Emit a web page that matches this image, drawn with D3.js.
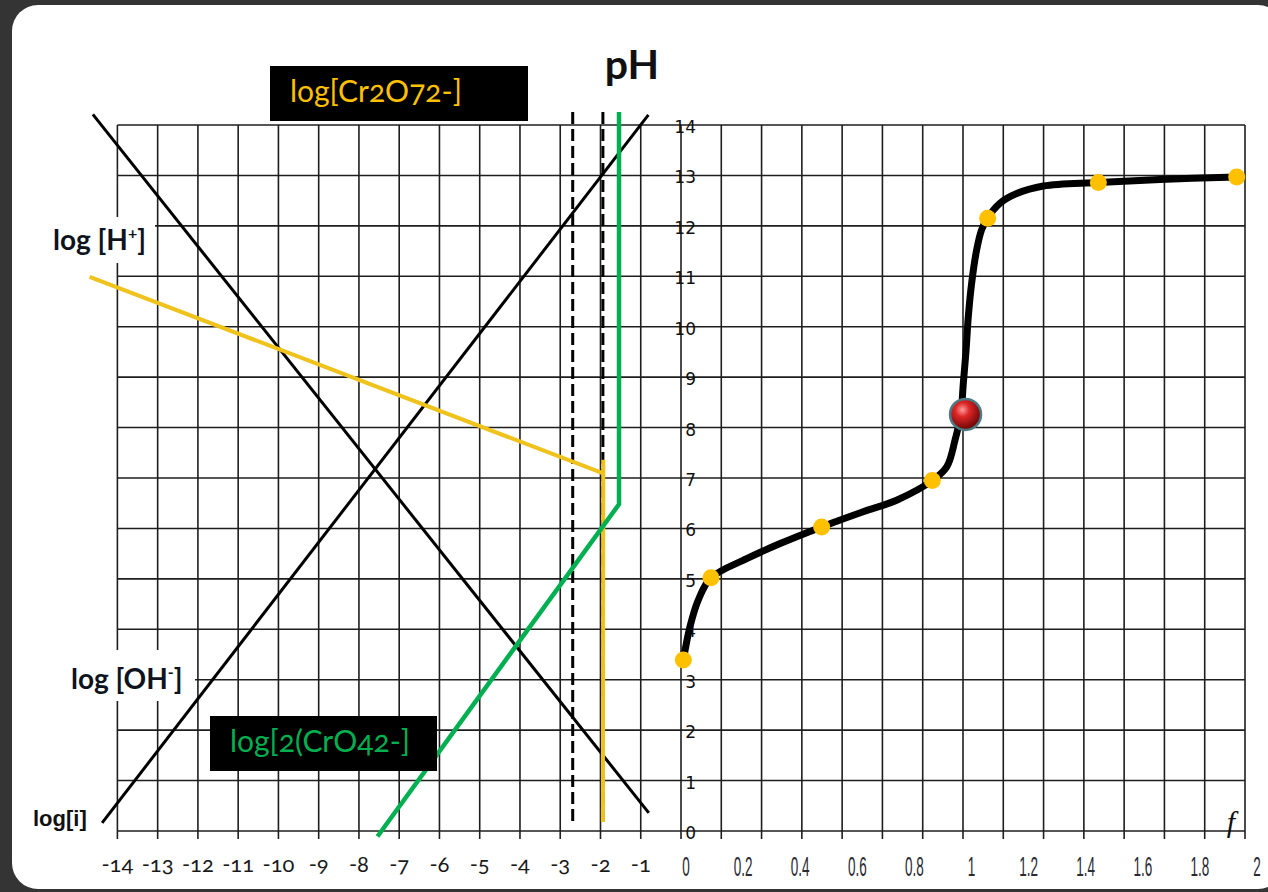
<!DOCTYPE html>
<html>
<head>
<meta charset="utf-8">
<script src="https://cdn.jsdelivr.net/npm/d3@7"></script>
<style>
  body { margin: 0; background: #343434; }
  svg { display: block; }
  .onum { font-family: Lato, "Noto Sans", sans-serif; font-variant-numeric: oldstyle-nums; font-feature-settings: "onum" 1; }
</style>
</head>
<body>
<svg id="chart" width="1268" height="892"></svg>
<script>
// ---- data ----
var logTicks = d3.range(-14, 0);            // -14 .. -1
var pHTicks = d3.range(0, 15);              // 0 .. 14
var fTicks = [0, 0.2, 0.4, 0.6, 0.8, 1, 1.2, 1.4, 1.6, 1.8, 2];
var fLabels = ["0", "0.2", "0.4", "0.6", "0.8", "1", "1.2", "1.4", "1.6", "1.8", "2"];

// left diagram: [log c, pH]
var hLine = [[-14.61, 14.21], [-0.80, 0.36]];
var ohLine = [[-14.38, 0.16], [-0.81, 14.20]];
var cr2o7Slope = [[-14.69, 10.99], [-1.93, 7.09]];
var cr2o7Vert = [[-1.93, 7.36], [-1.94, 0.18]];
var cro4Line = [[-7.54, -0.11], [-1.54, 6.48], [-1.54, 14.26]];
var dashedLog = [-2.69, -1.94];
var dashedPH = [14.26, 0.18];

// titration curve: f, pH
var curveF =  [0, 0.024, 0.054, 0.1, 0.229, 0.35, 0.5, 0.65, 0.771, 0.9, 0.952, 0.982, 1.003, 1.012, 1.022, 1.03, 1.042, 1.06, 1.078, 1.099, 1.145, 1.205, 1.301, 1.5, 1.723, 2];
var curvePH = [3.39, 4.05, 4.58, 5.02, 5.40, 5.70, 6.03, 6.33, 6.56, 6.95, 7.22, 7.75, 8.27, 8.88, 9.54, 10.2, 10.86, 11.52, 11.92, 12.15, 12.45, 12.64, 12.79, 12.86, 12.92, 12.97];
var pointF =  [0, 0.1, 0.5, 0.9, 1.1, 1.5, 2];
var pointPH = [3.39, 5.02, 6.03, 6.95, 12.15, 12.86, 12.97];
var equivF = [1.02];
var equivPH = [8.26];

var svg = d3.select("#chart");

var defs = svg.append("defs");
var grad = defs.append("radialGradient").attr("id", "ball")
  .attr("cx", "40%").attr("cy", "35%").attr("r", "65%");
grad.append("stop").attr("offset", "0%").attr("stop-color", "#ff9d9d");
grad.append("stop").attr("offset", "35%").attr("stop-color", "#dd2626");
grad.append("stop").attr("offset", "100%").attr("stop-color", "#6a0505");

// card
svg.append("rect").attr("x", 12).attr("y", 5).attr("width", 1272).attr("height", 884)
  .attr("rx", 26).attr("fill", "#fff");

// scales
var x = d3.scaleLinear().domain([-14, 0]).range([117.4, 681]);
var y = d3.scaleLinear().domain([0, 14]).range([831, 125]);
var col = d3.scaleLinear().domain([0, 14]).range([681, 1245]);
var f = d3.scaleLinear().domain([0, 2]).range([683.3, 1236.7]);
var fAxis = d3.scaleLinear().domain([0, 2]).range([686, 1257]);

// grid
var grid = svg.append("g").attr("stroke", "#1e1e1e").attr("stroke-width", 1.6);
grid.selectAll("line.vl").data(d3.range(-14, 1)).join("line").attr("class", "vl")
  .attr("x1", d => x(d)).attr("x2", d => x(d))
  .attr("y1", y(14)).attr("y2", y(0) + 8);
grid.selectAll("line.vr").data(d3.range(1, 15)).join("line").attr("class", "vr")
  .attr("x1", d => col(d)).attr("x2", d => col(d))
  .attr("y1", y(14)).attr("y2", y(0) + 8);
grid.selectAll("line.h").data(pHTicks).join("line").attr("class", "h")
  .attr("x1", x(-14)).attr("x2", col(14))
  .attr("y1", d => y(d)).attr("y2", d => y(d));

// white boxes behind side labels
svg.append("rect").attr("x", 48).attr("y", 217).attr("width", 107).attr("height", 46).attr("fill", "#fff");
svg.append("rect").attr("x", 62).attr("y", 650).attr("width", 133).attr("height", 51).attr("fill", "#fff");

// bottom axis labels, left
svg.append("g").attr("class", "onum").attr("font-size", 22).attr("fill", "#1a1a1a")
  .selectAll("text").data(logTicks).join("text")
  .attr("x", d => x(d)).attr("y", 872).attr("text-anchor", "middle")
  .text(d => d);

// pH axis labels
svg.append("g").attr("font-family", "'DejaVu Sans', sans-serif").attr("font-size", 17).attr("fill", "#111")
  .selectAll("text").data(pHTicks).join("text")
  .attr("x", 696).attr("y", d => y(d) + 8).attr("text-anchor", "end")
  .text(d => d);

// f axis labels (narrow)
svg.append("g").attr("font-family", "'Liberation Sans', Arial, sans-serif").attr("font-size", 27).attr("fill", "#2a2a33")
  .selectAll("text").data(fTicks).join("text")
  .attr("transform", d => "translate(" + fAxis(d) + ",876) scale(0.5,1)")
  .attr("text-anchor", "middle")
  .text((d, i) => fLabels[i]);

var line = d3.line().x(d => x(d[0])).y(d => y(d[1]));

// log lines
svg.append("path").attr("d", line(hLine)).attr("fill", "none").attr("stroke", "#000").attr("stroke-width", 3);
svg.append("path").attr("d", line(ohLine)).attr("fill", "none").attr("stroke", "#000").attr("stroke-width", 3);

svg.selectAll("line.dash").data(dashedLog).join("line").attr("class", "dash")
  .attr("x1", d => x(d)).attr("x2", d => x(d))
  .attr("y1", y(dashedPH[0])).attr("y2", y(dashedPH[1]))
  .attr("stroke", "#000").attr("stroke-width", 3).attr("stroke-dasharray", "12,5");

svg.append("path").attr("d", line(cr2o7Slope)).attr("fill", "none").attr("stroke", "#f0c21c").attr("stroke-width", 4);
svg.append("path").attr("d", line(cr2o7Vert)).attr("fill", "none").attr("stroke", "#f0c21c").attr("stroke-width", 4);
svg.append("path").attr("d", line(cro4Line)).attr("fill", "none").attr("stroke", "#00b050").attr("stroke-width", 4.5);

// titration curve
var curveData = curveF.map((v, i) => [v, curvePH[i]]);
var curveLine = d3.line().x(d => f(d[0])).y(d => y(d[1])).curve(d3.curveCatmullRom.alpha(0.5));
svg.append("path").attr("d", curveLine(curveData)).attr("fill", "none")
  .attr("stroke", "#000").attr("stroke-width", 7).attr("stroke-linecap", "round");

svg.selectAll("circle.pt").data(pointF).join("circle").attr("class", "pt")
  .attr("cx", d => f(d)).attr("cy", (d, i) => y(pointPH[i])).attr("r", 8.5)
  .attr("fill", "#ffc000");

svg.selectAll("circle.eq").data(equivF).join("circle").attr("class", "eq")
  .attr("cx", d => f(d)).attr("cy", (d, i) => y(equivPH[i])).attr("r", 15.5)
  .attr("fill", "url(#ball)").attr("stroke", "#4d7a82").attr("stroke-width", 2.5);

// labels
svg.append("text").attr("x", 632).attr("y", 79).attr("text-anchor", "middle")
  .attr("font-family", "Lato, sans-serif").attr("font-weight", 700).attr("font-size", 41)
  .attr("fill", "#111").text("pH");

svg.append("rect").attr("x", 270).attr("y", 66).attr("width", 258).attr("height", 55).attr("fill", "#000");
svg.append("text").attr("class", "onum").attr("x", 290).attr("y", 102)
  .attr("font-size", 30).attr("fill", "#ffc000").text("log[Cr2O72-]");

svg.append("rect").attr("x", 210).attr("y", 716).attr("width", 227).attr("height", 55).attr("fill", "#000");
svg.append("text").attr("class", "onum").attr("x", 230).attr("y", 752)
  .attr("font-size", 30).attr("fill", "#00b050").text("log[2(CrO42-]");

var hl = svg.append("text").attr("x", 53).attr("y", 250)
  .attr("font-family", "Lato, sans-serif").attr("font-weight", 700).attr("font-size", 28).attr("fill", "#0d1420");
hl.append("tspan").text("log [H");
hl.append("tspan").attr("dy", -11).attr("font-size", 16).text("+");
hl.append("tspan").attr("dy", 11).text("]");

var ol = svg.append("text").attr("x", 71).attr("y", 689)
  .attr("font-family", "Lato, sans-serif").attr("font-weight", 700).attr("font-size", 28).attr("fill", "#0d1420");
ol.append("tspan").text("log [OH");
ol.append("tspan").attr("dy", -11).attr("font-size", 16).text("-");
ol.append("tspan").attr("dy", 11).text("]");

svg.append("text").attr("x", 33).attr("y", 826)
  .attr("font-family", "'Liberation Sans', Arial, sans-serif").attr("font-weight", 700).attr("font-size", 22)
  .attr("fill", "#111").text("log[i]");

svg.append("text").attr("x", 1231).attr("y", 832).attr("text-anchor", "middle")
  .attr("font-family", "'Liberation Serif', serif").attr("font-style", "italic").attr("font-size", 30)
  .attr("fill", "#111").text("f");
</script>
</body>
</html>
